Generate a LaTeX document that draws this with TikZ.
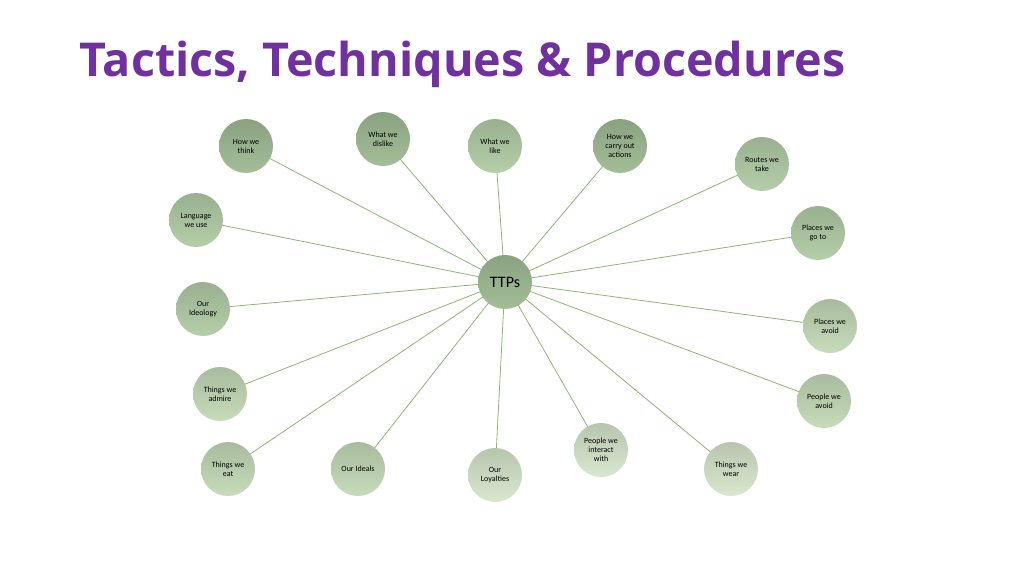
\documentclass[tikz,border=0pt]{standalone}
\usepackage{fontspec}
\setmainfont{Carlito}
\newfontfamily\titlefont{Open Sans}
\definecolor{g1}{HTML}{A3BE98}\definecolor{g2}{HTML}{B5CFA9}\definecolor{g3}{HTML}{C6DCBA}\definecolor{g4}{HTML}{D8E8CE}
\definecolor{ttl}{HTML}{7030A0}\definecolor{ln}{HTML}{8DB573}
\begin{document}
\begin{tikzpicture}[x=1pt,y=-1pt,
 bub/.style={circle,minimum size=54pt,inner sep=0pt,align=center,font=\fontsize{8}{9}\selectfont,top color=#1!85!black,bottom color=#1,draw=none},
 link/.style={draw=ln,line width=0.8pt}]
\useasboundingbox (0,0) rectangle (1024,575);
\node[anchor=base west,text=ttl,font=\titlefont\bfseries\fontsize{46.7}{52}\selectfont] (title) at (76,77) {Tactics, Techniques \& Procedures};
\foreach \n/\x/\y in {c/505/282,n1/246/146,n2/383/139,n3/495/146,n4/620/146,n5/762/164,n6/818/233,n7/196/220,n8/203/309,n9/830/326,n10/220/394,n11/824/401,n12/601/450,n13/228/469,n14/358/469,n15/495/475,n16/731/469}
  {\coordinate (\n) at (\x,\y);}
\foreach \i in {1,...,16}{\draw[link] (c) -- (n\i);}
\node[bub=g1] (cc) at (c) {\fontsize{16}{18}\selectfont TTPs};
\node[bub=g1] (b1) at (n1) {How we\\think};
\node[bub=g1] (b2) at (n2) {What we\\dislike};
\node[bub=g2] (b3) at (n3) {What we\\like};
\node[bub=g1] (b4) at (n4) {How we\\carry out\\actions};
\node[bub=g2] (b5) at (n5) {Routes we\\take};
\node[bub=g2] (b6) at (n6) {Places we\\go to};
\node[bub=g2] (b7) at (n7) {Language\\we use};
\node[bub=g2] (b8) at (n8) {Our\\Ideology};
\node[bub=g3] (b9) at (n9) {Places we\\avoid};
\node[bub=g3] (b10) at (n10) {Things we\\admire};
\node[bub=g3] (b11) at (n11) {People we\\avoid};
\node[bub=g4] (b12) at (n12) {People we\\interact\\with};
\node[bub=g3] (b13) at (n13) {Things we\\eat};
\node[bub=g3] (b14) at (n14) {Our Ideals};
\node[bub=g4] (b15) at (n15) {Our\\Loyalties};
\node[bub=g4] (b16) at (n16) {Things we\\wear};
\end{tikzpicture}
\end{document}
